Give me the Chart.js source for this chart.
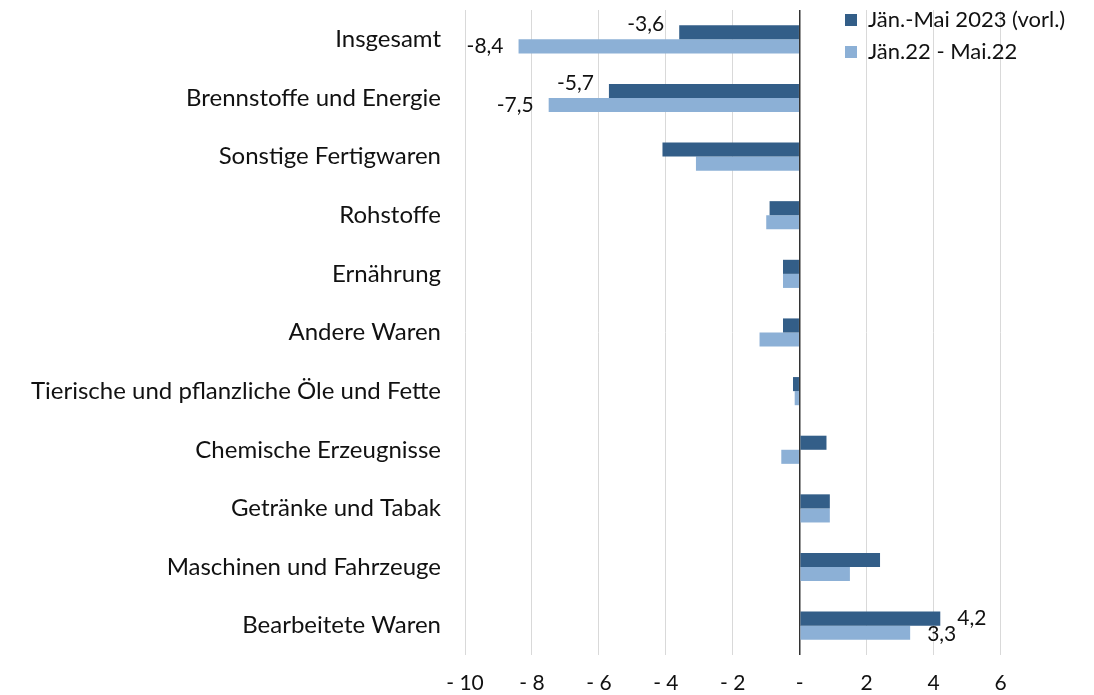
<!DOCTYPE html>
<html>
<head>
<meta charset="utf-8">
<script src="https://cdn.jsdelivr.net/npm/chart.js@4/dist/chart.umd.min.js"></script>
<style>
  html, body { margin: 0; padding: 0; background: #fff; }
  #wrap { position: relative; width: 1094px; height: 695px; }
  #legend { position: absolute; left: 845px; top: 3px; font-family: Lato, "Open Sans", sans-serif; font-size: 22px; color: #111; }
  #legend div { height: 32px; line-height: 32px; white-space: nowrap; }
  #legend span.box { display: inline-block; width: 12px; height: 12px; margin-right: 11px; vertical-align: 1px; }
</style>
</head>
<body>
<div id="wrap">
  <canvas id="chart" width="1094" height="695"></canvas>
  <div id="legend"></div>
</div>
<script>
// data
const categories = [
  "Insgesamt",
  "Brennstoffe und Energie",
  "Sonstige Fertigwaren",
  "Rohstoffe",
  "Ernährung",
  "Andere Waren",
  "Tierische und pflanzliche Öle und Fette",
  "Chemische Erzeugnisse",
  "Getränke und Tabak",
  "Maschinen und Fahrzeuge",
  "Bearbeitete Waren"
];
const seriesNames = ["Jän.-Mai 2023 (vorl.)", "Jän.22 - Mai.22"];
const values2023 = [-3.6, -5.7, -4.1, -0.9, -0.5, -0.5, -0.2, 0.8, 0.9, 2.4, 4.2];
const values2022 = [-8.4, -7.5, -3.1, -1.0, -0.5, -1.2, -0.15, -0.55, 0.9, 1.5, 3.3];
// which bars carry a data label
const labeled2023 = [true, true, false, false, false, false, false, false, false, false, true];
const labeled2022 = [true, true, false, false, false, false, false, false, false, false, true];
const xTicks = [-10, -8, -6, -4, -2, 0, 2, 4, 6];

const colors = ["#335e88", "#8cb0d6"];
const fontFamily = "Lato, 'Open Sans', sans-serif";

const fmt = (v) => v.toFixed(1).replace(".", ",");

// draws the few value labels next to the bar ends
const valueLabels = {
  id: "valueLabels",
  afterDatasetsDraw(chart) {
    const ctx = chart.ctx;
    const flags = [labeled2023, labeled2022];
    ctx.save();
    ctx.font = "21px " + fontFamily;
    ctx.fillStyle = "#111";
    ctx.textBaseline = "middle";
    chart.data.datasets.forEach((ds, di) => {
      const meta = chart.getDatasetMeta(di);
      meta.data.forEach((bar, i) => {
        if (!flags[di][i]) return;
        const v = ds.data[i];
        let dy = 0;
        if (di === 0 && v < 0) dy = -8;
        if (v < 0) {
          ctx.textAlign = "right";
          ctx.fillText(fmt(v), bar.x - 15, bar.y + dy);
        } else {
          ctx.textAlign = "left";
          ctx.fillText(fmt(v), bar.x + 17, bar.y + dy + (di === 1 ? 2 : 0));
        }
      });
    });
    ctx.restore();
  }
};

new Chart(document.getElementById("chart"), {
  type: "bar",
  data: {
    labels: categories,
    datasets: [
      { label: seriesNames[0], data: values2023, backgroundColor: colors[0] },
      { label: seriesNames[1], data: values2022, backgroundColor: colors[1] }
    ]
  },
  options: {
    indexAxis: "y",
    responsive: false,
    animation: false,
    layout: { padding: { top: 10, right: 60, bottom: 0, left: 0 } },
    datasets: { bar: { categoryPercentage: 0.48, barPercentage: 1.0 } },
    plugins: {
      legend: { display: false },
      tooltip: { enabled: false }
    },
    scales: {
      x: {
        min: -10,
        max: 7,
        afterBuildTicks: (axis) => {
          axis.ticks = xTicks.map(v => ({ value: v }));
        },
        afterFit: (scale) => { scale.height = 40; },
        ticks: {
          padding: 16,
          color: "#111",
          font: { family: fontFamily, size: 21 },
          callback: (v) => v === 0 ? "-" : (v < 0 ? "- " + Math.abs(v) : String(v))
        },
        grid: {
          drawTicks: false,
          color: (c) => c.tick && c.tick.value === 0 ? "#333" : "#d9d9d9",
          lineWidth: (c) => c.tick && c.tick.value === 0 ? 1.5 : 1
        },
        border: { display: false }
      },
      y: {
        afterFit: (scale) => {
          scale.width = 465;
          scale.paddingTop = 0;
          scale.paddingBottom = 0;
        },
        ticks: {
          padding: 24,
          color: "#111",
          font: { family: fontFamily, size: 24 }
        },
        grid: { display: false, drawTicks: false },
        border: { display: false }
      }
    }
  },
  plugins: [valueLabels]
});

const legend = document.getElementById("legend");
seriesNames.forEach((name, i) => {
  const row = document.createElement("div");
  const box = document.createElement("span");
  box.className = "box";
  box.style.background = colors[i];
  row.appendChild(box);
  row.appendChild(document.createTextNode(name));
  legend.appendChild(row);
});
</script>
</body>
</html>
